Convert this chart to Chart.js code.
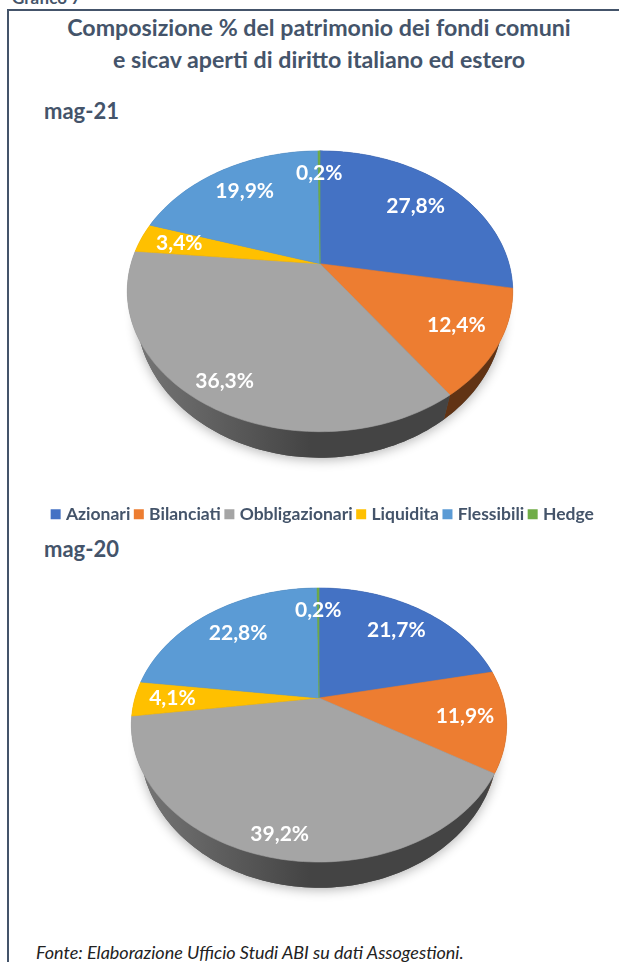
<!DOCTYPE html>
<html>
<head>
<meta charset="utf-8">
<title>Grafico 7</title>
<script src="https://cdn.jsdelivr.net/npm/chart.js@4"></script>
<style>
    html, body { margin: 0; padding: 0; background: #fff; }
    #page { position: relative; width: 619px; height: 962px; overflow: hidden; font-family: Lato, sans-serif; color: #44546a; }
    #frame { position: absolute; left: 7px; top: 9px; width: 640px; height: 990px; border: 2px solid #44546a; }
    .txt { position: absolute; white-space: nowrap; }
    .title { left: 0; width: 638px; text-align: center; font-weight: 700; font-size: 23.2px; }
    .period { left: 44px; font-weight: 700; font-size: 22px; }
    canvas { position: absolute; }
</style>
</head>
<body>
<div id="page">
    <div class="txt" style="left:12px;top:-13px;font-size:17px;font-weight:700">Grafico 7</div>
    <div id="frame"></div>
    <div class="txt title" style="top:13px">Composizione % del patrimonio dei fondi comuni</div>
    <div class="txt title" style="top:45px">e sicav aperti di diritto italiano ed estero</div>
    <div class="txt period" style="top:97px">mag-21</div>
    <div class="txt period" style="top:535px">mag-20</div>
    <div class="txt" style="left:36px;top:941px;font-size:18px;font-style:italic;color:#222">Fonte: Elaborazione Ufficio Studi ABI su dati Assogestioni.</div>
    <canvas id="pie21" style="left:0;top:29px"></canvas>
    <canvas id="pie20" style="left:109px;top:478px"></canvas>
</div>
<script>
const categories = ['Azionari', 'Bilanciati', 'Obbligazionari', 'Liquidita', 'Flessibili', 'Hedge'];
const values21 = [27.8, 12.4, 36.3, 3.4, 19.9, 0.2];
const values20 = [21.7, 11.9, 39.2, 4.1, 22.8, 0.2];
const colors = ['#4472c4', '#ed7d31', '#a5a5a5', '#ffc000', '#5b9bd5', '#70ad47'];

function hexToRgb(hex) {
    return [1, 3, 5].map(i => parseInt(hex.substr(i, 2), 16));
}

function shade(hex, f) {
    return 'rgb(' + hexToRgb(hex).map(c => Math.round(c * f)).join(',') + ')';
}

// The chart lays the slices out; this plugin only paints them tilted, like the old 3D pie
const tiltPlugin = {
    id: 'tilt',
    beforeDatasetsDraw(chart, args, opts) {
        const ctx = chart.ctx;
        const arcs = chart.getDatasetMeta(0).data;
        const cols = chart.data.datasets[0].backgroundColor;
        const vals = chart.data.datasets[0].data;
        const cx = arcs[0].x + opts.nudge;
        const cy = arcs[0].y;

        const project = (angle, frac) => {
            const u = Math.cos(angle) * frac;
            const v = Math.sin(angle) * frac;
            const w = 1 - opts.k * v;
            return [cx + opts.a * u / w, cy + opts.b * v / w];
        };
        const rim = (el) => {
            const pts = [];
            const steps = Math.max(2, Math.ceil((el.endAngle - el.startAngle) * 40));
            for (let i = 0; i <= steps; i++) {
                pts.push(project(el.startAngle + (el.endAngle - el.startAngle) * i / steps, 1));
            }
            return pts;
        };
        // bottom edge of the wall is further from the eye, so a bit narrower
        const lower = (p) => [cx + (p[0] - cx) * 0.953, cy + (p[1] - cy) * 1.043 + opts.drop];
        const trace = (pts) => {
            ctx.beginPath();
            pts.forEach((p, i) => i ? ctx.lineTo(p[0], p[1]) : ctx.moveTo(p[0], p[1]));
            ctx.closePath();
        };

        // soft shadow under the whole pie
        ctx.save();
        ctx.shadowColor = 'rgba(0,0,0,0.3)';
        ctx.shadowBlur = 12;
        ctx.shadowOffsetY = 2;
        ctx.fillStyle = '#555';
        const outline = [];
        arcs.forEach(el => rim(el).forEach(p => outline.push(lower(p))));
        trace(outline);
        ctx.fill();
        ctx.restore();

        // side wall
        arcs.forEach((el, i) => {
            const pts = rim(el);
            const wall = pts.concat(pts.slice().reverse().map(lower));
            const grad = ctx.createLinearGradient(cx - opts.a, 0, cx - 10, 0);
            grad.addColorStop(0, shade(cols[i], 0.72));
            grad.addColorStop(1, shade(cols[i], 0.41));
            trace(wall);
            ctx.fillStyle = grad;
            ctx.fill();
        });

        // top face
        arcs.forEach((el, i) => {
            trace([[cx, cy]].concat(rim(el)));
            ctx.fillStyle = cols[i];
            ctx.strokeStyle = cols[i];
            ctx.lineWidth = 0.6;
            ctx.fill();
            ctx.stroke();
        });

        // value labels, at the middle of each slice
        ctx.fillStyle = '#fff';
        ctx.font = '700 21px Lato';
        ctx.textAlign = 'center';
        ctx.textBaseline = 'middle';
        arcs.forEach((el, i) => {
            const p = project((el.startAngle + el.endAngle) / 2, opts.labelRadius[i]);
            ctx.fillText(vals[i].toFixed(1).replace('.', ',') + '%', p[0], p[1]);
        });
        return false;
    }
};

function makePie(id, width, height, values, tilt, legend) {
    const canvas = document.getElementById(id);
    canvas.width = width;
    canvas.height = height;
    canvas.style.width = width + 'px';
    canvas.style.height = height + 'px';
    return new Chart(canvas, {
        type: 'pie',
        data: {
            labels: categories,
            datasets: [{ data: values, backgroundColor: colors, borderWidth: 0 }]
        },
        plugins: [tiltPlugin],
        options: {
            responsive: false,
            animation: false,
            events: [],
            plugins: {
                tilt: tilt,
                tooltip: { enabled: false },
                legend: legend
            }
        }
    });
}

makePie('pie21', 648, 504, values21,
    { a: 189, b: 135, k: 0.196, drop: 18.8, nudge: -4, labelRadius: [0.72, 0.784, 0.86, 0.783, 0.748, 0.776] },
    {
        display: true,
        position: 'bottom',
        labels: {
            color: '#44546a',
            font: { family: 'Lato', size: 17.5, weight: '700' },
            usePointStyle: true,
            pointStyle: 'rect',
            boxWidth: 3,
            boxHeight: 10,
            padding: 7
        }
    });

makePie('pie20', 420, 440, values20,
    { a: 184, b: 131.7, k: 0.197, drop: 18.7, nudge: 0, labelRadius: [0.742, 0.784, 0.875, 0.796, 0.73, 0.767] },
    { display: false });
</script>
</body>
</html>
